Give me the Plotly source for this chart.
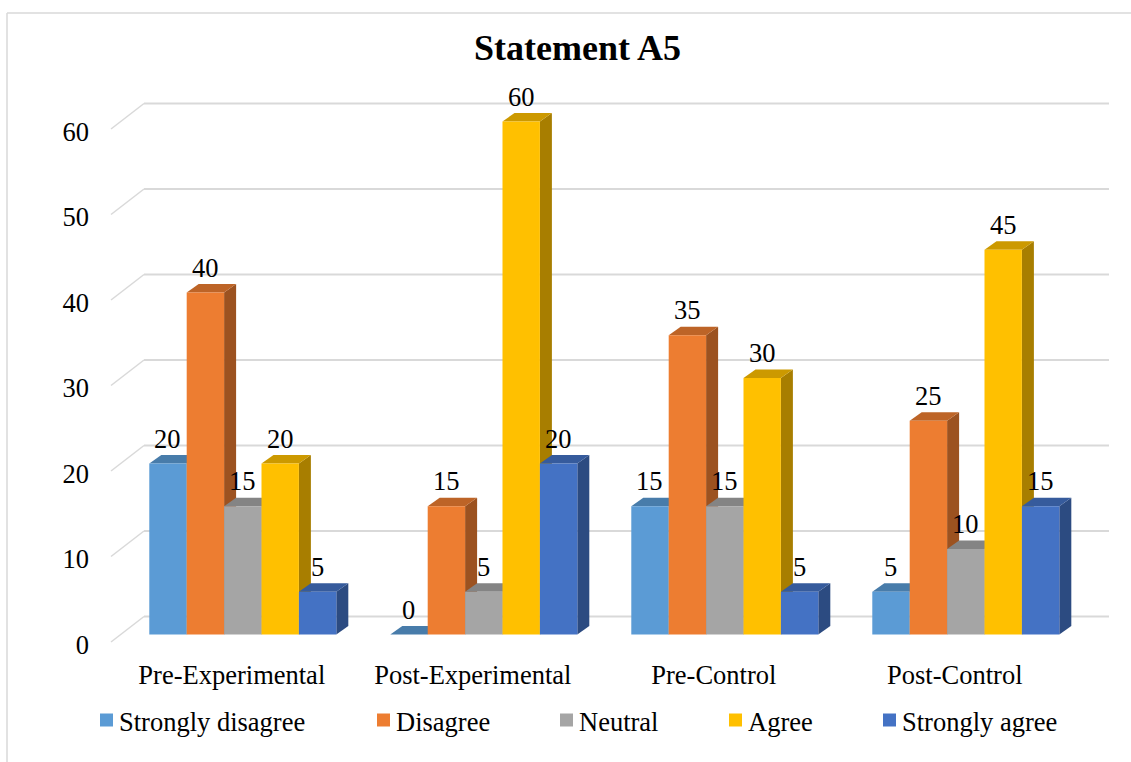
import plotly.graph_objects as go

# ---- data -------------------------------------------------------------
categories = ["Pre-Experimental", "Post-Experimental", "Pre-Control", "Post-Control"]
series_names = ["Strongly disagree", "Disagree", "Neutral", "Agree", "Strongly agree"]
strongly_disagree = [20, 0, 15, 5]
disagree = [40, 15, 35, 25]
neutral = [15, 5, 15, 10]
agree = [20, 60, 30, 45]
strongly_agree = [5, 20, 5, 15]
y_ticks = [0, 10, 20, 30, 40, 50, 60]

series_values = [strongly_disagree, disagree, neutral, agree, strongly_agree]
front_colors = ["#5B9BD5", "#ED7D31", "#A5A5A5", "#FFC000", "#4472C4"]

FONT = "Liberation Serif, Times New Roman, serif"
GRID = "#D9D9D9"

# ---- page geometry (pixels) ---------------------------------------------
W, H = 1131, 762
L, R, T, B = 100, 11, 60, 112
PW, PH = W - L - R, H - T - B
PB = H - B

PX_PER_CAT = 241.0     # horizontal pixels per category
PX_PER_UNIT = 8.55     # vertical pixels per value unit
X0_PX = 242.8          # pixel centre of the first category's bar group
Y0_PX = 634.5          # pixel of value 0 on the bars' front plane

x_range = [(L - X0_PX) / PX_PER_CAT, (L + PW - X0_PX) / PX_PER_CAT]
y_range = [(Y0_PX - PB) / PX_PER_UNIT, (Y0_PX - T) / PX_PER_UNIT]


def ux(px):
    """horizontal pixel length -> x data units"""
    return px / PX_PER_CAT


def uy(px):
    """vertical pixel length -> y data units"""
    return px / PX_PER_UNIT


def paper_x(px):
    return (px - L) / PW


def paper_y(py):
    return (PB - py) / PH


BARGAP = 0.224
n_series = len(series_values)
bar_w = (1 - BARGAP) / n_series

# depth of each column and of the floor/back wall
BAR_DX, BAR_DY = ux(12), uy(8.5)
FLOOR_X = ux(111 - X0_PX)          # front edge of the floor (x data units)
FLOOR_DROP = uy(7.5)               # floor front edge below the columns' base
WALL_DX, WALL_DY = ux(33), uy(25.5)
WALL_END = ux(1109 - X0_PX)


def shade(hex_color, f):
    h = hex_color.lstrip("#")
    r, g, b = (int(h[i:i + 2], 16) for i in (0, 2, 4))
    return "#{:02X}{:02X}{:02X}".format(int(r * f), int(g * f), int(b * f))


def path(points):
    return "M " + " L ".join(f"{x:.5f},{y:.5f}" for x, y in points) + " Z"


fig = go.Figure()
shapes = []
annotations = []

# ---- floor & back-wall gridlines ---------------------------------------
for v in y_ticks:
    yf = v - FLOOR_DROP
    yb = yf + WALL_DY
    shapes.append(dict(type="line", xref="x", yref="y", layer="below",
                       x0=FLOOR_X, y0=yf, x1=FLOOR_X + WALL_DX, y1=yb,
                       line=dict(color=GRID, width=1.5)))
    shapes.append(dict(type="line", xref="x", yref="y", layer="below",
                       x0=FLOOR_X + WALL_DX, y0=yb, x1=WALL_END, y1=yb,
                       line=dict(color=GRID, width=2)))

# ---- columns: front faces as bars, top and side faces as shapes ---------
positions = list(range(len(categories)))
for k, (name, vals, col) in enumerate(zip(series_names, series_values, front_colors)):
    fig.add_trace(go.Bar(x=positions, y=vals, name=name, marker_color=col,
                         marker_line_width=0, showlegend=False))

top_colors = [shade(c, 0.80) for c in front_colors]
side_colors = [shade(c, 0.66) for c in front_colors]

for i in positions:
    for k in range(n_series):
        v = series_values[k][i]
        xl = i + (k - n_series / 2) * bar_w
        xr = xl + bar_w
        if v > 0:
            shapes.append(dict(type="path", xref="x", yref="y", layer="below",
                               path=path([(xr, 0), (xr, v), (xr + BAR_DX, v + BAR_DY),
                                          (xr + BAR_DX, BAR_DY)]),
                               fillcolor=side_colors[k], line=dict(width=0)))
        shapes.append(dict(type="path", xref="x", yref="y", layer="below",
                           path=path([(xl, v), (xr, v), (xr + BAR_DX, v + BAR_DY),
                                      (xl + BAR_DX, v + BAR_DY)]),
                           fillcolor=top_colors[k], line=dict(width=0)))
        annotations.append(dict(x=xl + bar_w / 2, y=v + uy(25), xref="x", yref="y",
                                text=str(v), showarrow=False, yanchor="middle",
                                font=dict(family=FONT, size=26.5, color="#000000")))

# ---- legend -----------------------------------------------------------
legend_left_px = [100, 377, 560, 729, 883]
LEG_Y = 720
for name, col, lx in zip(series_names, front_colors, legend_left_px):
    shapes.append(dict(type="rect", xref="paper", yref="paper",
                       x0=paper_x(lx), x1=paper_x(lx + 13),
                       y0=paper_y(LEG_Y + 6.5), y1=paper_y(LEG_Y - 6.5),
                       fillcolor=col, line=dict(width=0)))
    annotations.append(dict(x=paper_x(lx + 17), y=paper_y(LEG_Y + 2), xref="paper", yref="paper",
                            text=name, showarrow=False, xanchor="left", yanchor="middle",
                            font=dict(family=FONT, size=26.5, color="#000000")))

# ---- title ------------------------------------------------------------
annotations.append(dict(x=paper_x(577.5), y=paper_y(48), xref="paper", yref="paper",
                        text="Statement A5", showarrow=False, xanchor="center", yanchor="middle",
                        font=dict(family=FONT, size=36, color="#000000", weight="bold")))

# ---- chart border (top and left edges) --------------------------------
shapes.append(dict(type="line", xref="paper", yref="paper",
                   x0=paper_x(7), y0=paper_y(13), x1=paper_x(1131), y1=paper_y(13),
                   line=dict(color=GRID, width=1.5)))
shapes.append(dict(type="line", xref="paper", yref="paper",
                   x0=paper_x(7), y0=paper_y(13), x1=paper_x(7), y1=paper_y(770),
                   line=dict(color=GRID, width=1.5)))

fig.update_layout(
    width=W, height=H,
    margin=dict(l=L, r=R, t=T, b=B, pad=0),
    paper_bgcolor="white", plot_bgcolor="white",
    barmode="group", bargap=BARGAP, bargroupgap=0,
    showlegend=False,
    shapes=shapes, annotations=annotations,
    font=dict(family=FONT, size=26.5, color="#000000"),
    xaxis=dict(range=x_range, tickvals=positions, ticktext=categories,
               showgrid=False, zeroline=False, showline=False, ticks="",
               ticklabelshift=-11, ticklabelstandoff=6,
               tickfont=dict(family=FONT, size=26.5, color="#000000")),
    yaxis=dict(range=y_range, tickvals=y_ticks,
               showgrid=False, zeroline=False, showline=False, ticks="",
               ticklabelshift=10, ticklabelstandoff=10,
               tickfont=dict(family=FONT, size=26.5, color="#000000")),
)

fig.write_html("out.html")
